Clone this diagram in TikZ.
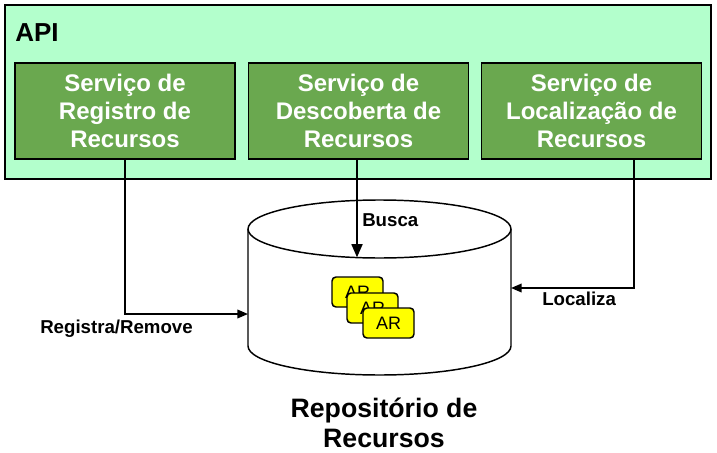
\documentclass[tikz,border=0pt]{standalone}
\usepackage{fontspec}
\setmainfont{Liberation Sans}
\usetikzlibrary{arrows.meta}
\definecolor{apigreen}{RGB}{179,255,204}
\definecolor{svcgreen}{RGB}{106,168,79}
\definecolor{aryellow}{RGB}{255,255,0}
\tikzset{
  svc/.style={draw=black, line width=1.1pt, fill=svcgreen, minimum width=220*0.75pt, minimum height=96*0.75pt,
    text=white, font=\fontsize{18}{21}\selectfont\bfseries, align=center, inner sep=0pt},
  arbox/.style={draw=black, line width=1.1pt, fill=aryellow, rounded corners=3pt, minimum width=51*0.75pt,
    minimum height=30*0.75pt, inner sep=0pt, font=\fontsize{13.5}{15}\selectfont},
  lbl/.style={font=\fontsize{14}{16}\selectfont\bfseries, inner sep=0pt, anchor=west},
  conn/.style={line width=1.1pt, -{Triangle[length=8pt,width=6.5pt]}},
  connthick/.style={line width=2pt, -{Triangle[length=10pt,width=8pt]}}
}
\begin{document}
\begin{tikzpicture}[x=0.75pt,y=-0.75pt]
\useasboundingbox (0,0) rectangle (717,453);
% API container
\node[draw=black, line width=1.1pt, fill=apigreen, minimum width=706*0.75pt, minimum height=174*0.75pt, inner sep=0pt] (api) at (358,92) {};
\node[font=\fontsize{19.5}{22}\selectfont\bfseries, anchor=west, inner sep=0pt] (apilbl) at (15,33) {API};
% services
\node[svc] (s1) at (125,111) {Serviço de\\Registro de\\Recursos};
\node[svc] (s2) at (358.5,111) {Serviço de\\Descoberta de\\Recursos};
\node[svc] (s3) at (591.5,111) {Serviço de\\Localização de\\Recursos};
% cylinder
\draw[line width=1.1pt, fill=white] (248,229) -- (248,346) arc[start angle=180, end angle=0, x radius=131.5, y radius=29] -- (511,229)
  arc[start angle=0, end angle=-180, x radius=131.5, y radius=29] -- cycle;
\draw[line width=1.1pt] (248,229) arc[start angle=180, end angle=0, x radius=131.5, y radius=29];
\coordinate (cylL) at (248,314);
\coordinate (cylR) at (511,288);
\coordinate (cylT) at (357,257.5);
% AR boxes
\node[arbox] (ar1) at (357.5,292) {AR};
\node[arbox] (ar2) at (372.5,308) {AR};
\node[arbox] (ar3) at (388.5,323) {AR};
% connectors
\coordinate (r1) at (125,314);
\draw[conn] (s1.south) -- (r1) -- (cylL);
\coordinate (l3a) at (634,159);
\coordinate (l3b) at (634,288);
\draw[conn] (l3a) -- (l3b) -- (cylR);
\draw[connthick] (s2.south -| cylT) -- (cylT);
% labels
\node[lbl] (busca) at (362,220) {Busca};
\node[lbl] (reg) at (40,329) {Registra/Remove};
\node[lbl] (loc) at (542,299) {Localiza};
\node[font=\fontsize{20}{22.5}\selectfont\bfseries, align=center, inner sep=0pt] (repo) at (384,423) {Repositório de\\Recursos};
\end{tikzpicture}
\end{document}
